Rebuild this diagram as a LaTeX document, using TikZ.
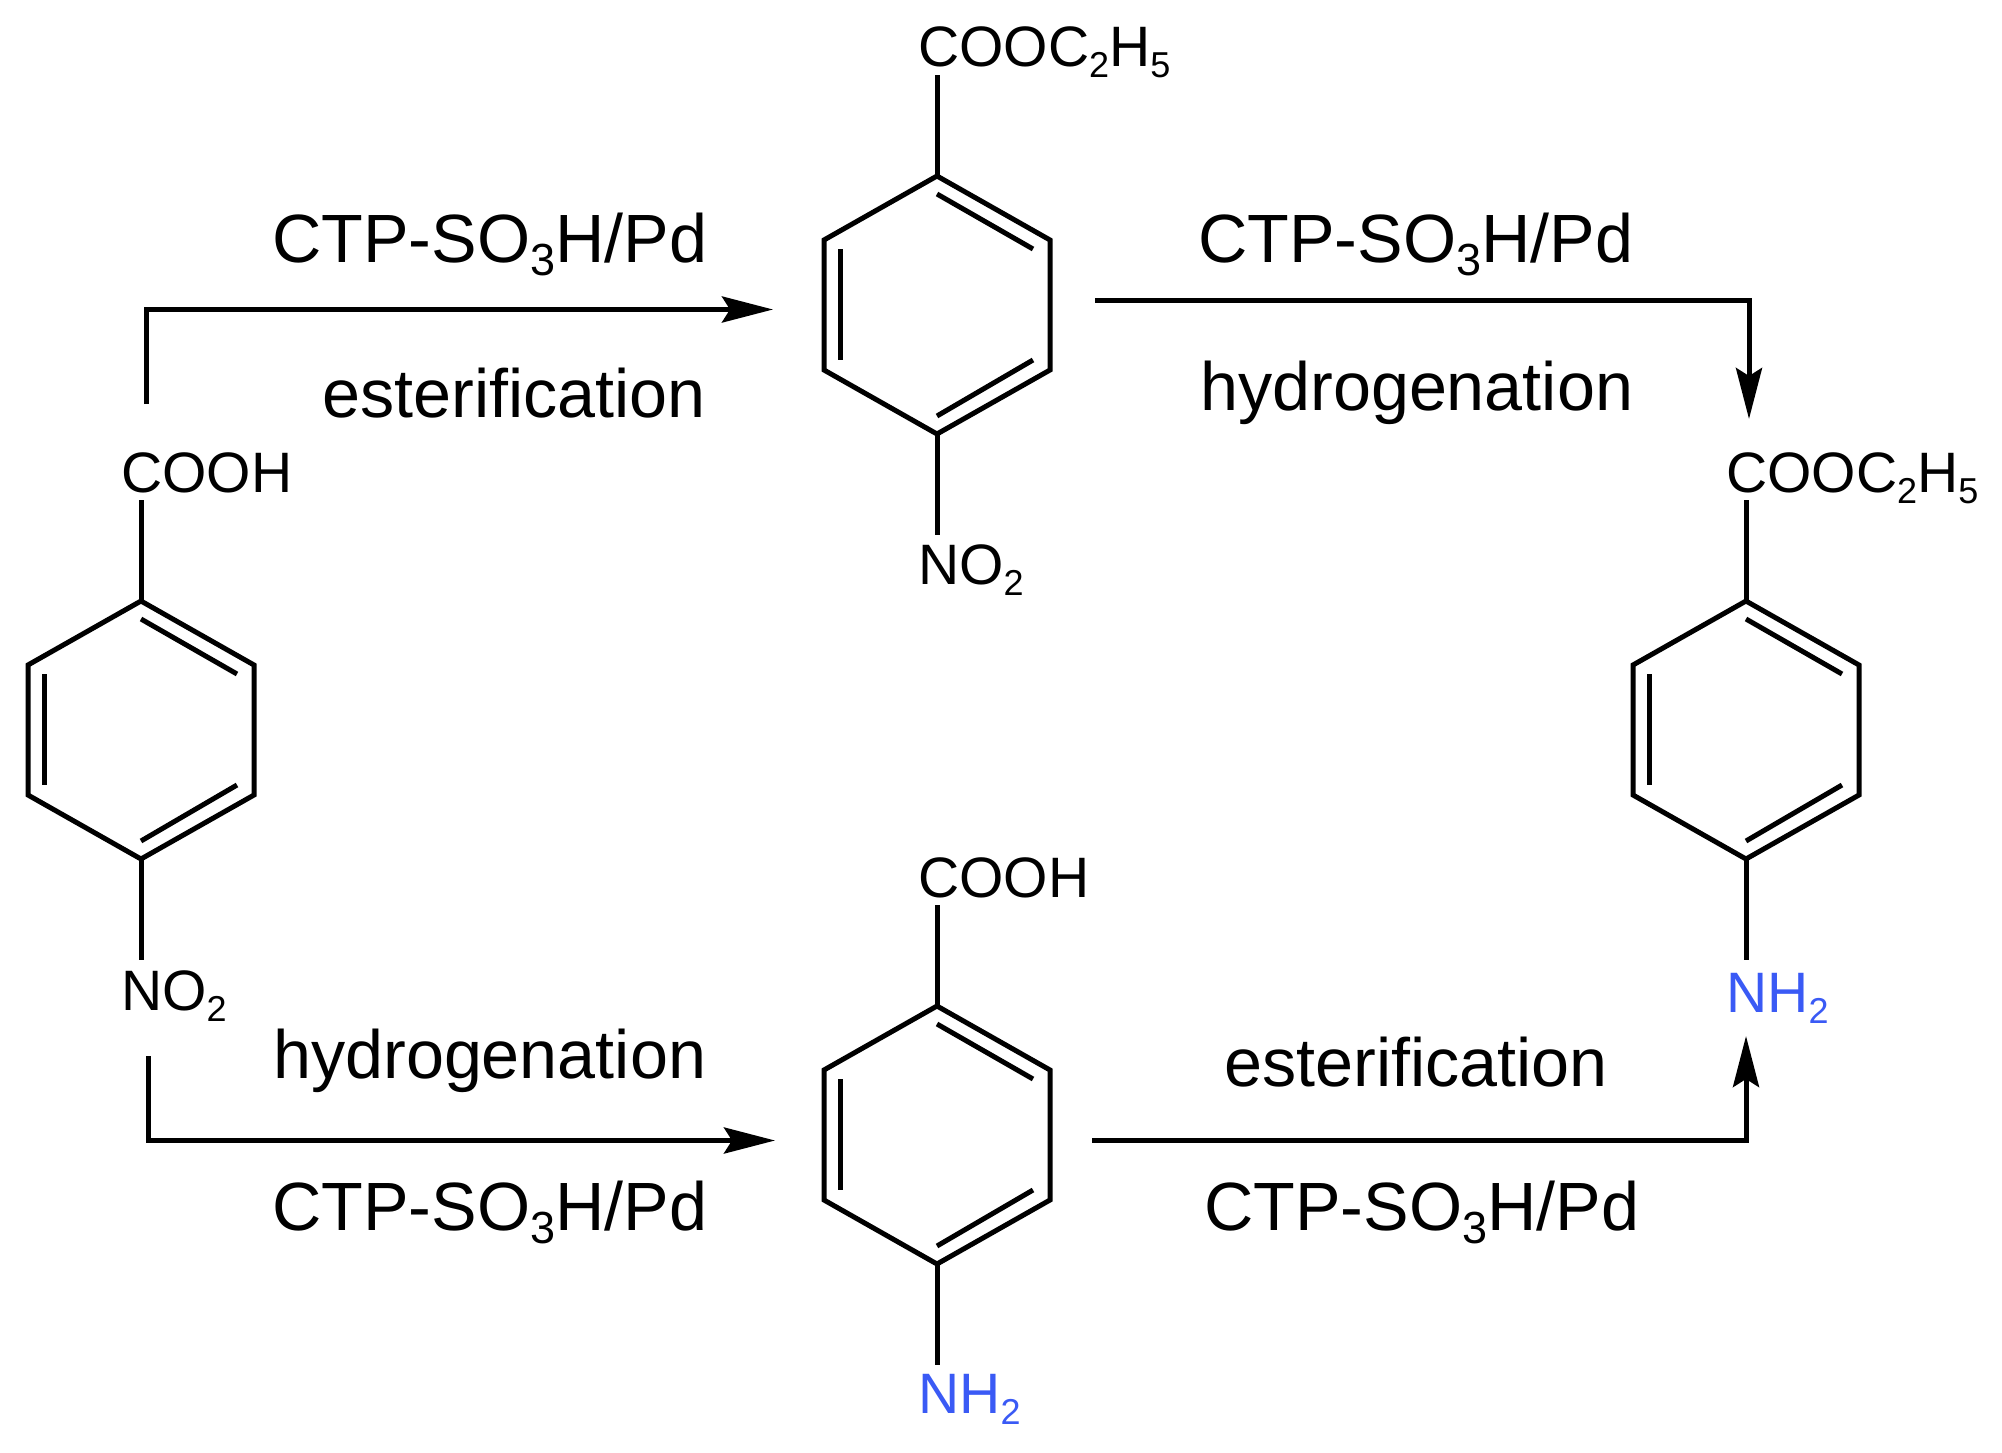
\documentclass[tikz,border=0pt]{standalone}
\usepackage{fontspec}
\setmainfont{Liberation Sans}
\usetikzlibrary{arrows.meta}
\definecolor{aminoblue}{HTML}{3A5AF5}
\newcommand{\ssub}[1]{\raisebox{-11pt}{\fontsize{36}{36}\selectfont #1}}
\newcommand{\bsub}[1]{\raisebox{-13pt}{\fontsize{45}{45}\selectfont #1}}
\tikzset{
  x=1pt,y=-1pt,
  bond/.style={line width=5pt,black,line join=miter,line cap=butt},
  rxn/.style={line width=5pt,black,line cap=butt},
  rxnv/.style={line width=5pt,black,line cap=butt},
  hd/.style={-{Stealth[length=51pt,width=26pt,inset=8pt]}},
  chem/.style={inner sep=0pt,anchor=base west,font=\fontsize{57}{60}\selectfont},
  cond/.style={inner sep=0pt,anchor=base west,font=\fontsize{68.3}{72}\selectfont},
}
\newcommand{\benzring}[3]{%
  \begin{scope}[shift={(#2,#3)}]
    \coordinate (#1t) at (0,0);
    \coordinate (#1ur) at (113,64);
    \coordinate (#1lr) at (113,194);
    \coordinate (#1b) at (0,258);
    \coordinate (#1ll) at (-113,194);
    \coordinate (#1ul) at (-113,64);
    \coordinate (#1sa) at (0,-101);
    \coordinate (#1sb) at (0,359);
    \coordinate (#1ia) at (0,18);
    \coordinate (#1ib) at (96,73);
    \coordinate (#1ic) at (96,184);
    \coordinate (#1id) at (0,240);
    \coordinate (#1ie) at (-97,73);
    \coordinate (#1if) at (-97,184);
    \draw[bond] (#1t) -- (#1ur) -- (#1lr) -- (#1b) -- (#1ll) -- (#1ul) -- cycle;
    \draw[bond] (#1ia) -- (#1ib);
    \draw[bond] (#1ic) -- (#1id);
    \draw[bond] (#1ie) -- (#1if);
    \draw[bond] (#1t) -- (#1sa);
    \draw[bond] (#1b) -- (#1sb);
  \end{scope}}
\begin{document}
\begin{tikzpicture}
\useasboundingbox (0,0) rectangle (2002,1453);
\benzring{ra}{141}{601}
\benzring{rb}{937}{176}
\benzring{rc}{1746}{601}
\benzring{rd}{937}{1006}

\node[chem] (acid1) at (121,492) {COOH};
\node[chem] (nitro1) at (121,1010) {NO\ssub{2}};
\node[chem] (ester2) at (918,67) {COOC\ssub{2}H\ssub{5}};
\node[chem] (nitro2) at (918,584) {NO\ssub{2}};
\node[chem] (ester3) at (1726,492) {COOC\ssub{2}H\ssub{5}};
\node[chem,text=aminoblue] (amino3) at (1726,1012) {NH\ssub{2}};
\node[chem] (acid4) at (918,897) {COOH};
\node[chem,text=aminoblue] (amino4) at (918,1413) {NH\ssub{2}};

\node[cond] (c1) at (272,262) {CTP-SO\bsub{3}H/Pd};
\node[cond] (e1) at (322,417) {esterification};
\node[cond] (c2) at (1198,262) {CTP-SO\bsub{3}H/Pd};
\node[cond] (h2) at (1200,410) {hydrogenation};
\node[cond] (h3) at (273,1078) {hydrogenation};
\node[cond] (c3) at (272,1230) {CTP-SO\bsub{3}H/Pd};
\node[cond] (e4) at (1224,1086) {esterification};
\node[cond] (c4) at (1204,1230) {CTP-SO\bsub{3}H/Pd};

\coordinate (a1s) at (146,404);
\coordinate (a1c) at (146,307);
\coordinate (a1d) at (149,309.5);
\coordinate (a1e) at (773,309.5);
\coordinate (a2s) at (1095,300.5);
\coordinate (a2c) at (1747,300.5);
\coordinate (a2d) at (1749,298);
\coordinate (a2e) at (1749,419);
\coordinate (a3s) at (148,1056);
\coordinate (a3c) at (148,1143);
\coordinate (a3d) at (151,1140.5);
\coordinate (a3e) at (775,1140.5);
\coordinate (a4s) at (1092,1140.5);
\coordinate (a4c) at (1744,1140.5);
\coordinate (a4d) at (1746,1143);
\coordinate (a4e) at (1746,1036);
\draw[rxnv] (a1s) -- (a1c);
\draw[rxn,hd] (a1d) -- (a1e);
\draw[rxn] (a2s) -- (a2c);
\draw[rxnv,hd] (a2d) -- (a2e);
\draw[rxnv] (a3s) -- (a3c);
\draw[rxn,hd] (a3d) -- (a3e);
\draw[rxn] (a4s) -- (a4c);
\draw[rxnv,hd] (a4d) -- (a4e);
\end{tikzpicture}
\end{document}
